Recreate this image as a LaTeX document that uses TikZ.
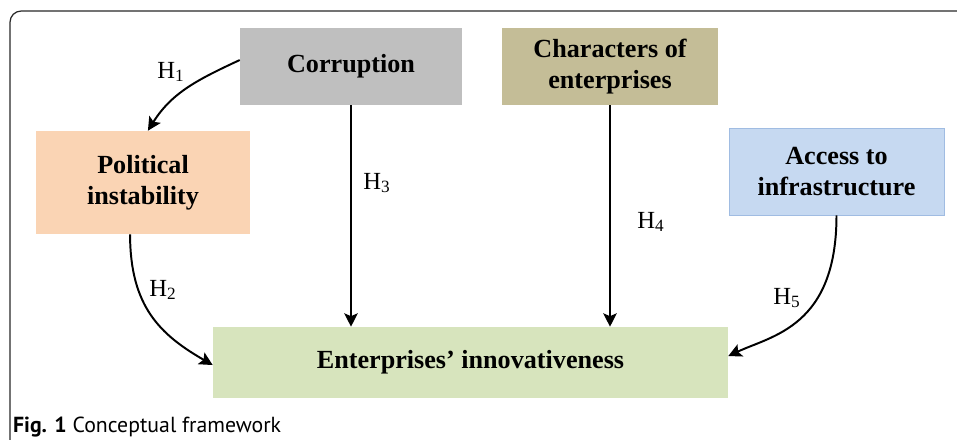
\documentclass[tikz,border=0pt]{standalone}
\usepackage{fontspec}
\setmainfont{Liberation Serif}
\newfontfamily\capfont{PT Sans}
\usetikzlibrary{arrows.meta}

\begin{document}
\begin{tikzpicture}[%
>={Stealth[length=9.5pt,width=9.5pt,inset=2pt]},
box/.style={inner sep=0pt, align=center, font=\fontsize{18.6}{22}\selectfont\bfseries},
hyp/.style={font=\fontsize{17.5}{20}\selectfont},
link/.style={line width=1.4pt, ->},
]
\useasboundingbox (0,0) rectangle (23.925,-11);
\clip (0,0) rectangle (23.925,-11);
%% frame;
\draw [color={rgb,255:red,40;green,40;blue,40}, line width=0.9pt, rounded corners=8pt] (0.25,-11.5) -- (0.25,-0.275) -- (24.5,-0.275);
%% box;
\node [box, fill={rgb,255:red,191;green,191;blue,191}, minimum width=5.55cm, minimum height=1.925cm] (corruption) at (8.775,-1.6625) {Corruption};
%% box;
\node [box, fill={rgb,255:red,196;green,189;blue,151}, minimum width=5.4cm, minimum height=1.925cm] (characters) at (15.25,-1.6625) {Characters of\\enterprises};
%% box;
\node [box, fill={rgb,255:red,250;green,212;blue,180}, minimum width=5.35cm, minimum height=2.575cm] (political) at (3.575,-4.5625) {Political\\instability};
%% box;
\node [box, fill={rgb,255:red,198;green,217;blue,241}, draw={rgb,255:red,160;green,188;blue,226}, line width=0.6pt, minimum width=5.375cm, minimum height=2.175cm] (access) at (20.9125,-4.2875) {Access to\\infrastructure};
%% box;
\node [box, fill={rgb,255:red,215;green,228;blue,189}, minimum width=12.875cm, minimum height=1.775cm] (enterprises) at (11.7625,-9.0625) {Enterprises’ innovativeness};
%% arrow;
\draw [link] ([yshift=4.6pt]corruption.west) to[out=205, in=58] ([xshift=3.5pt]political.north);
%% arrow;
\draw [link] ([xshift=-9.2pt]political.south) to[out=-90, in=150, out looseness=1.2] ([yshift=-1.8pt]enterprises.west);
%% arrow;
\draw [link] (corruption.south) -- (corruption.south |- enterprises.north);
%% arrow;
\draw [link] (characters.south) -- (characters.south |- enterprises.north);
%% arrow;
\draw [link] (access.south) to[out=-90, in=25, out looseness=1.6, in looseness=0.7] ([yshift=4.6pt]enterprises.east);
%% label;
\node [hyp] (h1) at (4.275,-1.8) {H\textsubscript{1}};
%% label;
\node [hyp] (h2) at (4.075,-7.25) {H\textsubscript{2}};
%% label;
\node [hyp] (h3) at (9.425,-4.575) {H\textsubscript{3}};
%% label;
\node [hyp] (h4) at (16.275,-5.55) {H\textsubscript{4}};
%% label;
\node [hyp] (h5) at (19.675,-7.45) {H\textsubscript{5}};
%% caption;
\node [anchor=base west, inner sep=0pt, font=\capfont\fontsize{15.5}{18}\selectfont] (caption) at (0.32,-10.8) {\textbf{Fig. 1} Conceptual framework};
\end{tikzpicture}
\end{document}
